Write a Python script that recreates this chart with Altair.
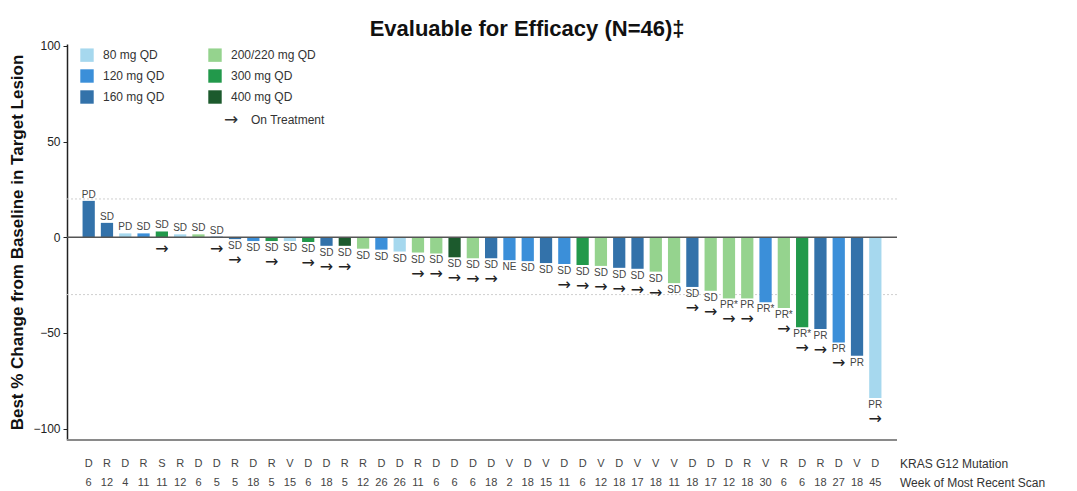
import altair as alt
import pandas as pd

mutation = list("DRDRSRDDRDRVDDRRDDRDDDDVDV" + "DDVDVVVDDDRVRDRDVD")
weeks = [6, 12, 4, 11, 11, 12, 6, 5, 5, 18, 5, 15, 6, 18, 5, 12, 26, 26, 11, 6, 6, 6,
         18, 2, 18, 15, 11, 6, 12, 18, 17, 18, 11, 18, 17, 12, 18, 30, 6, 6, 18, 27, 18, 45]
values = [19, 7.5, 2, 2, 3, 1.5, 1.5, 0.3, -1, -2, -2, -2, -2.5, -4.5, -4.5, -6, -6.5, -7.5,
          -8, -8.5, -10.5, -11, -11, -12, -12.5, -13.5, -14, -14.5, -15, -16, -16.5, -18,
          -24, -26, -28, -32, -32, -34, -37, -47, -48, -55, -62, -84]
D80, D120, D160, D200, D300, D400 = ("80 mg QD", "120 mg QD", "160 mg QD",
                                     "200/220 mg QD", "300 mg QD", "400 mg QD")
doses = [D160, D160, D80, D120, D300, D80, D200, D120, D160, D120, D300, D80, D300, D160,
         D400, D200, D120, D80, D200, D200, D400, D200, D160, D120, D120, D160, D120, D300,
         D200, D160, D160, D200, D200, D160, D200, D200, D200, D120, D200, D300, D160,
         D120, D160, D80]
responses = ["PD", "SD", "PD"] + ["SD"] * 20 + ["NE"] + ["SD"] * 11 + \
            ["PR*", "PR", "PR*", "PR*", "PR*", "PR", "PR", "PR", "PR"]
on_treatment = [4, 7, 8, 10, 12, 13, 14, 18, 19, 20, 21, 22, 26, 27, 28, 29, 30, 31,
                33, 34, 35, 36, 38, 39, 40, 41, 43]

legend_order = [D80, D120, D160, D200, D300, D400]
legend_colors = ["#a6d8ee", "#3b8fd9", "#3372aa", "#95d38e", "#22994b", "#1c5a2d"]

df = pd.DataFrame({
    "idx": list(range(len(values))),
    "mutation": mutation,
    "week": [str(w) for w in weeks],
    "value": values,
    "dose": doses,
    "resp": responses,
    "ontx": [i in on_treatment for i in range(len(values))],
})

W, H = 830, 396
FONT = "Liberation Sans"
ARROW_FONT = "DejaVu Sans"

xenc = alt.X("idx:O", axis=None,
             scale=alt.Scale(paddingInner=0.33, paddingOuter=0.85))
yscale = alt.Scale(domain=[-106, 101], nice=False, zero=False)

base = alt.Chart(df)

bars = base.mark_bar().encode(
    x=xenc,
    y=alt.Y("value:Q", scale=yscale,
            axis=alt.Axis(values=[-100, -50, 0, 50, 100], grid=False,
                          title="Best % Change from Baseline in Target Lesion",
                          titleFontSize=17, titleFontWeight="bold", titleColor="#111",
                          titleFont=FONT, labelFont=FONT, labelFontSize=12,
                          labelColor="#222", domainColor="#222", domainWidth=1.5,
                          tickColor="#222", tickSize=4, labelPadding=3,
                          titlePadding=6)),
    y2=alt.datum(0),
    color=alt.Color("dose:N",
                    scale=alt.Scale(domain=legend_order, range=legend_colors),
                    legend=alt.Legend(title=None, orient="none", legendX=13, legendY=4,
                                      columns=2, columnPadding=43, rowPadding=7,
                                      symbolType="square", symbolSize=180,
                                      symbolStrokeWidth=0, labelFont=FONT,
                                      labelFontSize=12, labelColor="#333",
                                      labelOffset=9)),
)

ref_lines = alt.Chart(pd.DataFrame({"y": [20, -30]})).mark_rule(
    color="#cfcfcf", strokeDash=[2, 2], strokeWidth=1
).encode(y=alt.Y("y:Q", scale=yscale))

zero_line = alt.Chart(pd.DataFrame({"y": [0]})).mark_rule(
    color="#555", strokeWidth=1.5
).encode(y=alt.Y("y:Q", scale=yscale))

bottom_line = alt.Chart(pd.DataFrame({"y": [-106]})).mark_rule(
    color="#8a8a8a", strokeWidth=2
).encode(y=alt.Y("y:Q", scale=yscale))

lab_pos = base.transform_filter("datum.value >= 0").mark_text(
    font=FONT, fontSize=10, color="#444", baseline="bottom", dy=-1
).encode(x=xenc, y=alt.Y("value:Q", scale=yscale), text="resp:N")

lab_neg = base.transform_filter("datum.value < 0").mark_text(
    font=FONT, fontSize=10, color="#444", baseline="middle", dy=7
).encode(x=xenc, y=alt.Y("value:Q", scale=yscale), text="resp:N")

arr_pos = base.transform_filter("datum.ontx && datum.value >= 0").mark_text(
    font=ARROW_FONT, fontSize=16, color="#222", baseline="middle", dy=12
).encode(x=xenc, y=alt.datum(0), text=alt.value("→"))

arr_neg = base.transform_filter("datum.ontx && datum.value < 0").mark_text(
    font=ARROW_FONT, fontSize=16, color="#222", baseline="middle", dy=21
).encode(x=xenc, y=alt.Y("value:Q", scale=yscale), text=alt.value("→"))

mut_row = base.mark_text(font=FONT, fontSize=11, color="#444", baseline="middle").encode(
    x=xenc, y=alt.value(H + 24), text="mutation:N")

week_row = base.mark_text(font=FONT, fontSize=11, color="#444", baseline="middle").encode(
    x=xenc, y=alt.value(H + 43), text="week:N")

row_titles = alt.Chart(pd.DataFrame({
    "t": ["KRAS G12 Mutation", "Week of Most Recent Scan"],
    "yy": [H + 24, H + 43]})).mark_text(
    font=FONT, fontSize=12, color="#333", align="left", baseline="middle"
).encode(x=alt.value(W + 3), y=alt.Y("yy:Q", scale=None), text="t:N")

ontx_arrow = alt.Chart(pd.DataFrame({"t": ["→"]})).mark_text(
    font=ARROW_FONT, fontSize=17, color="#333", align="left", baseline="middle"
).encode(x=alt.value(157), y=alt.value(76), text="t:N")

ontx_legend = alt.Chart(pd.DataFrame({"t": ["On Treatment"]})).mark_text(
    font=FONT, fontSize=12, color="#333", align="left", baseline="middle"
).encode(x=alt.value(184), y=alt.value(76), text="t:N")

chart = alt.layer(
    ref_lines, bars, zero_line, bottom_line, lab_pos, lab_neg, arr_pos, arr_neg,
    mut_row, week_row, row_titles, ontx_arrow, ontx_legend
).properties(
    width=W, height=H,
    padding={"left": 0, "top": 9, "right": 5, "bottom": 0},
    title=alt.TitleParams("Evaluable for Efficacy (N=46)‡", fontSize=22, font=FONT,
                          fontWeight="bold", color="#111", anchor="middle",
                          frame="bounds", offset=-1),
).configure_view(stroke=None)

chart.save("out.html", embed_options={"renderer": "svg", "actions": False})
